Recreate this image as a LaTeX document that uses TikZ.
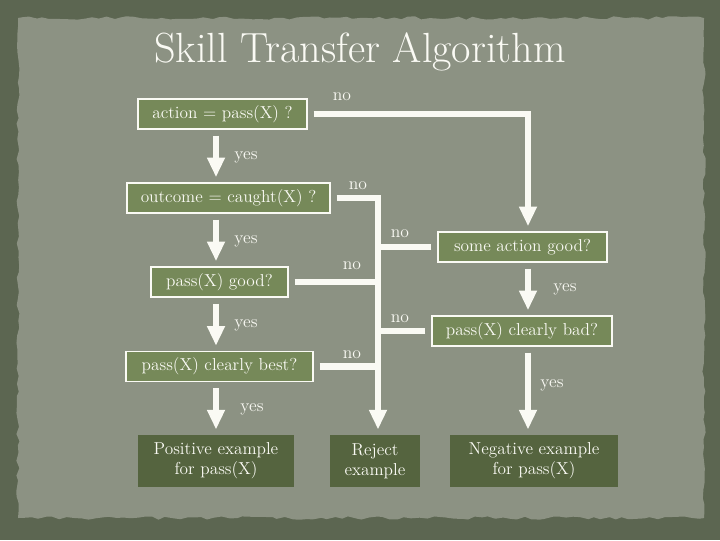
\documentclass[tikz,border=0pt]{standalone}
\usetikzlibrary{arrows.meta, decorations.pathmorphing}
\definecolor{boardbg}{HTML}{5C6651}
\definecolor{paper}{HTML}{8C9283}
\definecolor{askfill}{HTML}{768959}
\definecolor{endfill}{HTML}{55643F}
\definecolor{chalk}{HTML}{FAFAF4}

\tikzset{
  ask/.style={draw=chalk, line width=0.8pt, fill=askfill, text=chalk, font=\fontsize{12.3}{14}\selectfont, minimum height=0.75cm, inner sep=2pt},
  result/.style={fill=endfill, text=chalk, align=center, font=\fontsize{12.3}{14}\selectfont, minimum height=1.3cm, inner sep=2pt},
  flow/.style={draw=chalk, line width=4.3pt, shorten <=0.15cm, shorten >=0.13cm, -{Triangle[width=12pt,length=14pt]}},
  link/.style={draw=chalk, line width=4.3pt, shorten <=0.15cm},
  tag/.style={text=chalk, font=\fontsize{12.5}{14}\selectfont}
}

\begin{document}
\begin{tikzpicture}[x=0.025cm, y=-0.025cm]
\useasboundingbox (0,0) rectangle (720,540);
\pgfmathsetseed{11}
\fill[boardbg] (0,0) rectangle (720,540);
\fill[paper, decorate, decoration={random steps, segment length=5pt, amplitude=1.2pt}] (18,18) rectangle (704,518);

\node[text=chalk, font=\fontsize{30}{36}\selectfont] (title) at (360,52) {Skill Transfer Algorithm};

% questions on the left
\node[ask, minimum width=4.225cm] (action) at (222.5,114) {action = pass(X) ?};
\node[ask, minimum width=5.075cm] (caught) at (228.5,198) {outcome = caught(X) ?};
\node[ask, minimum width=3.425cm] (pgood) at (219.5,282) {pass(X) good?};
\node[ask, minimum width=4.675cm] (pbest) at (219.5,366.5) {pass(X) clearly best?};
% questions on the right
\node[ask, minimum width=4.225cm] (somegood) at (522.5,247) {some action good?};
\node[ask, minimum width=4.5cm] (pbad) at (522,331) {pass(X) clearly bad?};
% outcomes
\node[result, minimum width=3.9cm] (positive) at (216,461) {Positive example\\for pass(X)};
\node[result, minimum width=2.25cm] (reject) at (375,461) {Reject\\example};
\node[result, minimum width=4.2cm] (negative) at (534,461) {Negative example\\for pass(X)};

\coordinate (lcol) at (216,0);
\coordinate (mcol) at (378,0);
\coordinate (rcol) at (528,0);

% yes branches
\draw[flow] (action.south -| lcol) -- (lcol |- caught.north);
\draw[flow] (caught.south -| lcol) -- (lcol |- pgood.north);
\draw[flow] (pgood.south -| lcol) -- (lcol |- pbest.north);
\draw[flow] (pbest.south -| lcol) -- (lcol |- positive.north);
\draw[flow] (somegood.south -| rcol) -- (rcol |- pbad.north);
\draw[flow] (pbad.south -| rcol) -- (rcol |- negative.north);

% no branches
\draw[flow] (action.east) -- (action.east -| rcol) -- (rcol |- somegood.north);
\draw[flow] (caught.east) -- (caught.east -| mcol) -- (mcol |- reject.north);
\draw[link] (pgood.east) -- (pgood.east -| mcol);
\draw[link] (pbest.east) -- (pbest.east -| mcol);
\draw[link] (somegood.west) -- (somegood.west -| mcol);
\draw[link] (pbad.west) -- (pbad.west -| mcol);

\node[tag] (yes1) at (246,157) {yes};
\node[tag] (yes2) at (246,241) {yes};
\node[tag] (yes3) at (246,325) {yes};
\node[tag] (yes4) at (252,409) {yes};
\node[tag] (yes5) at (565,289) {yes};
\node[tag] (yes6) at (552,385) {yes};
\node[tag] (no1) at (342,97) {no};
\node[tag] (no2) at (358,186) {no};
\node[tag] (no3) at (400,234) {no};
\node[tag] (no4) at (352,266) {no};
\node[tag] (no5) at (400,319) {no};
\node[tag] (no6) at (352,355) {no};
\end{tikzpicture}
\end{document}
